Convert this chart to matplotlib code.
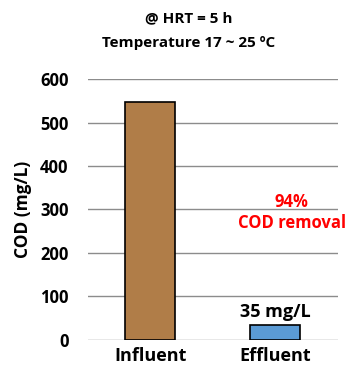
import matplotlib.pyplot as plt

categories = ["Influent", "Effluent"]
cod_values = [548, 35]
bar_colors = ["#B07D48", "#5B9BD5"]
yticks = [0, 100, 200, 300, 400, 500, 600]

plt.rcParams['font.family'] = ['Open Sans', 'DejaVu Sans']
plt.rcParams['font.weight'] = 'bold'

fig = plt.figure(figsize=(3.56, 3.84), dpi=100)
ax = fig.add_axes([0.247, 0.115, 0.702, 0.679])

x = range(len(categories))
ax.bar(x, cod_values, width=0.4, color=bar_colors, edgecolor="black", linewidth=1.2, zorder=3)

ax.set_xlim(-0.5, 1.5)
ax.set_ylim(0, 600)
ax.set_yticks(yticks)
ax.set_xticks(list(x))
ax.set_xticklabels(categories, fontsize=13, fontweight='bold')
ax.tick_params(axis='y', labelsize=12, length=0, pad=14)
ax.tick_params(axis='x', length=0, pad=5)
for lab in ax.get_yticklabels():
    lab.set_fontweight('bold')
ax.yaxis.grid(True, color="#8c8c8c", linewidth=1, zorder=0)
for s in ax.spines.values():
    s.set_visible(False)

ax.set_ylabel("COD (mg/L)", fontsize=12.5, fontweight='bold', labelpad=6)

ax.text(1, cod_values[1] + 8, "35 mg/L", ha='center', va='bottom', fontsize=13, fontweight='bold')
ax.text(1.13, 318, "94%", ha='center', va='center', color='#FF0000', fontsize=12, fontweight='bold')
ax.text(1.13, 268, "COD removal", ha='center', va='center', color='#FF0000', fontsize=12, fontweight='bold')

fig.text(0.53, 0.953, "@ HRT = 5 h", ha='center', va='center', fontsize=11, fontweight='bold')
fig.text(0.53, 0.888, "Temperature 17 ~ 25 ºC", ha='center', va='center', fontsize=11, fontweight='bold')

fig.savefig("out.png", dpi=100)
